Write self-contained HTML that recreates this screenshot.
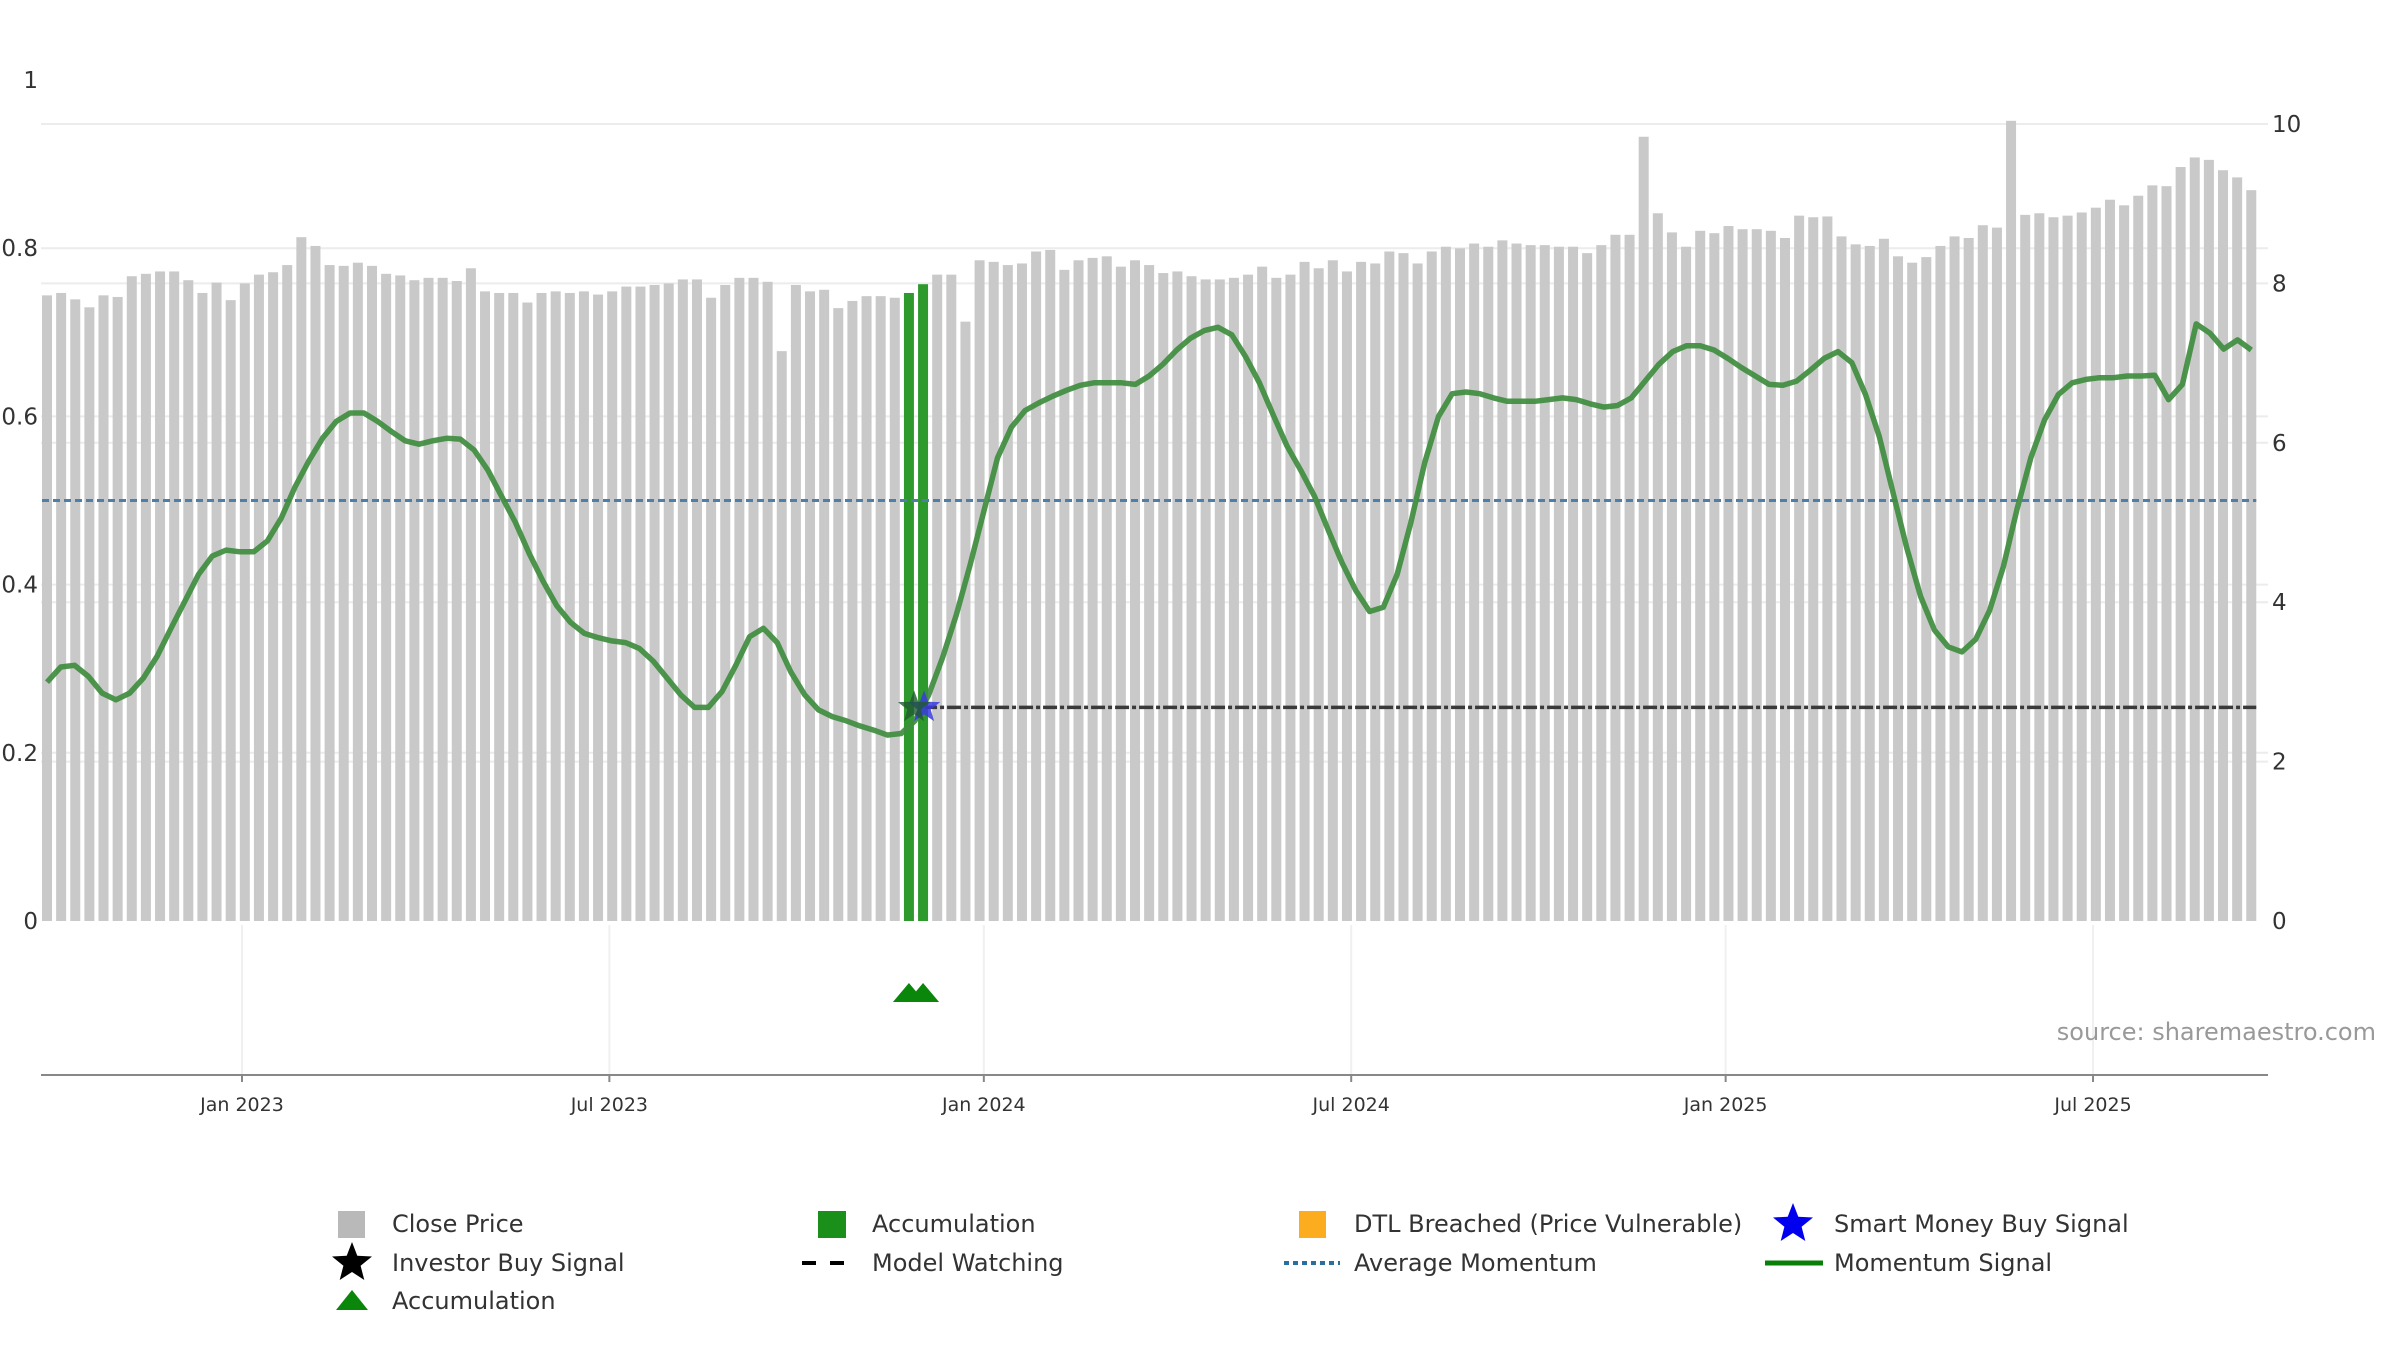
<!DOCTYPE html>
<html><head><meta charset="utf-8"><style>
html,body{margin:0;padding:0;background:#fff;}
svg text{font-family:"DejaVu Sans","Liberation Sans",sans-serif;}
</style></head><body>
<svg id="chart" width="2400" height="1350" viewBox="0 0 2400 1350" xmlns="http://www.w3.org/2000/svg">
<g id="grid"></g>
<g id="bars"></g>
<g id="lines"></g>
<g id="axes"></g>
<text x="2376" y="1040" text-anchor="end" font-size="24" fill="#999">source: sharemaestro.com</text>
<g id="legend" font-size="24" fill="#333"></g>
</svg>
<script>
const closePrices = [7.85,7.88,7.80,7.70,7.85,7.83,8.09,8.12,8.15,8.15,8.04,7.88,8.01,7.79,8.00,8.11,8.14,8.23,8.58,8.47,8.23,8.22,8.26,8.22,8.12,8.10,8.04,8.07,8.07,8.03,8.19,7.90,7.88,7.88,7.76,7.88,7.90,7.88,7.90,7.86,7.90,7.96,7.96,7.98,8.00,8.05,8.05,7.82,7.98,8.07,8.07,8.02,7.15,7.98,7.90,7.92,7.69,7.78,7.84,7.84,7.82,7.88,7.99,8.11,8.11,7.52,8.29,8.27,8.23,8.25,8.40,8.42,8.17,8.29,8.32,8.34,8.21,8.29,8.23,8.13,8.15,8.09,8.05,8.05,8.07,8.11,8.21,8.07,8.11,8.27,8.19,8.29,8.15,8.27,8.25,8.40,8.38,8.25,8.40,8.46,8.44,8.50,8.46,8.54,8.50,8.48,8.48,8.46,8.46,8.38,8.48,8.61,8.61,9.84,8.88,8.64,8.46,8.66,8.63,8.72,8.68,8.68,8.66,8.57,8.85,8.83,8.84,8.59,8.49,8.47,8.56,8.34,8.26,8.33,8.47,8.59,8.57,8.73,8.70,10.04,8.86,8.88,8.83,8.85,8.89,8.95,9.05,8.98,9.10,9.23,9.22,9.46,9.58,9.55,9.42,9.33,9.17];
const accumulationIdx = [61,62];
const momentum = [0.284,0.302,0.304,0.291,0.271,0.263,0.271,0.289,0.315,0.348,0.380,0.412,0.434,0.441,0.439,0.439,0.452,0.479,0.516,0.547,0.574,0.594,0.604,0.604,0.594,0.582,0.571,0.567,0.571,0.574,0.573,0.560,0.536,0.505,0.474,0.437,0.404,0.375,0.355,0.342,0.337,0.333,0.331,0.324,0.309,0.289,0.269,0.254,0.254,0.273,0.304,0.338,0.348,0.331,0.296,0.269,0.251,0.243,0.238,0.232,0.227,0.221,0.223,0.238,0.269,0.313,0.364,0.423,0.487,0.551,0.587,0.607,0.616,0.624,0.631,0.637,0.640,0.640,0.640,0.638,0.648,0.662,0.679,0.693,0.702,0.706,0.697,0.671,0.640,0.602,0.565,0.536,0.505,0.465,0.426,0.393,0.368,0.373,0.412,0.474,0.545,0.600,0.627,0.629,0.627,0.622,0.618,0.618,0.618,0.620,0.622,0.620,0.615,0.611,0.613,0.622,0.642,0.662,0.677,0.684,0.684,0.679,0.669,0.658,0.648,0.638,0.637,0.642,0.655,0.669,0.677,0.664,0.626,0.576,0.509,0.443,0.386,0.346,0.326,0.320,0.335,0.369,0.421,0.490,0.551,0.596,0.626,0.640,0.644,0.646,0.646,0.648,0.648,0.649,0.620,0.638,0.710,0.699,0.680,0.691,0.679];
const avgMomentum = 0.5;
const signalIdx = 62;
const signalLevel = 0.254;
const leftTicks = [0,0.2,0.4,0.6,0.8,1];
const leftTickLabels = ["0","0.2","0.4","0.6","0.8","1"];
const rightTicks = [0,2,4,6,8,10];
const xTickBarPos = [13.8,39.8,66.3,92.3,118.8,144.8];
const xTickLabels = ["Jan 2023","Jul 2023","Jan 2024","Jul 2024","Jan 2025","Jul 2025"];

const NS="http://www.w3.org/2000/svg";
const X0=47, DX=14.13, Y0=921;
const xBar=i=>X0+i*DX;
const yL=v=>Y0-v*841;
const yR=v=>Y0-v*79.7;
const PL=41, PR=2268;
function mk(tag,attrs,parent){const e=document.createElementNS(NS,tag);for(const k in attrs)e.setAttribute(k,attrs[k]);parent.appendChild(e);return e;}
const grid=document.getElementById('grid'),bars=document.getElementById('bars'),lines=document.getElementById('lines'),axes=document.getElementById('axes'),legend=document.getElementById('legend');

leftTicks.forEach((t,i)=>{
  if(t>0&&t<1){const g=mk('line',{x1:PL,x2:PR,y1:yL(t),y2:yL(t),stroke:'#ececec','stroke-width':2},grid);
  
  }
  const tx=mk('text',{x:38,y:yL(t)+8,'text-anchor':'end','font-size':23,fill:'#333'},axes);tx.textContent=leftTickLabels[i];
  
  
});
rightTicks.forEach(t=>{
  if(t>0){const g=mk('line',{x1:PL,x2:PR,y1:yR(t),y2:yR(t),stroke:'#ececec','stroke-width':2},grid);
  
  }
  const tx=mk('text',{x:2272,y:yR(t)+8,'font-size':23,fill:'#333'},axes);tx.textContent=String(t);
  
  
});
xTickBarPos.forEach((p,i)=>{
  const x=xBar(p);
  const g=mk('line',{x1:x,x2:x,y1:925,y2:1075,stroke:'#f0f0f0','stroke-width':2},grid);
  
  
  const tk=mk('line',{x1:x,x2:x,y1:1075,y2:1082,stroke:'#888','stroke-width':2},axes);
  
  
  const tx=mk('text',{x:x,y:1111,'text-anchor':'middle','font-size':19,fill:'#333'},axes);tx.textContent=xTickLabels[i];
  
  
});
const axl=mk('line',{x1:PL,x2:PR,y1:1075,y2:1075,stroke:'#888','stroke-width':2},axes);



closePrices.forEach((v,i)=>{
  const acc=accumulationIdx.includes(i);
  const r=mk('rect',{x:xBar(i)-5,y:yR(v),width:10,height:Y0-yR(v),fill:acc?'#2e9a2e':'#c9c9c9'},bars);
  
  
});

const avg=mk('line',{x1:xBar(0)-5,x2:xBar(closePrices.length-1)+5,y1:yL(avgMomentum),y2:yL(avgMomentum),stroke:'#4f7fa6','stroke-width':3,'stroke-dasharray':'7,4'},lines);



const watch=mk('line',{x1:xBar(signalIdx),x2:xBar(closePrices.length-1)+5,y1:yL(signalLevel),y2:yL(signalLevel),stroke:'#3a3a3a','stroke-width':3.5,'stroke-dasharray':'14,3,4,3'},lines);



const mStep=(xBar(closePrices.length-1)-xBar(0))/(momentum.length-1);
const pts=momentum.map((v,i)=>(xBar(0)+i*mStep).toFixed(1)+','+yL(v).toFixed(1)).join(' ');
const ml=mk('polyline',{points:pts,fill:'none',stroke:'#3f8d3f','stroke-width':5.5,'stroke-linejoin':'round',opacity:0.92},lines);



function starPath(cx,cy,R,r){let d='';for(let k=0;k<10;k++){const a=-Math.PI/2+k*Math.PI/5;const rr=k%2?r:R;d+=(k?'L':'M')+(cx+rr*Math.cos(a)).toFixed(1)+','+(cy+rr*Math.sin(a)).toFixed(1);}return d+'Z';}
const sx=xBar(signalIdx)-7, sy=yL(signalLevel);
const s1=mk('path',{d:starPath(sx+8,sy,17,7),fill:'#3a3adf',opacity:0.85},lines);


const s2=mk('path',{d:starPath(sx-2,sy,17,7),fill:'#1f5a2f',opacity:0.8},lines);



accumulationIdx.forEach(i=>{
  const x=xBar(i);
  const t=mk('polygon',{points:`${x-16},1002 ${x+16},1002 ${x},983`,fill:'#0a870a'},lines);
  
  
});

function item(name,x,y,label){const t=mk('text',{x:x,y:y+8},legend);t.textContent=label;
  
  }
let e;
e=mk('rect',{x:338,y:1211,width:27,height:27,fill:'#b9b9b9'},legend);
item('legend-close-price',392,1224,'Close Price');
e=mk('rect',{x:818,y:1211,width:28,height:27,fill:'#1a8f1a'},legend);
item('legend-accumulation-bar',872,1224,'Accumulation');
e=mk('rect',{x:1299,y:1211,width:27,height:27,fill:'#fbad1f'},legend);
item('legend-dtl-breached',1354,1224,'DTL Breached (Price Vulnerable)');
e=mk('path',{d:starPath(1793,1224,21,9),fill:'#0000ee'},legend);
item('legend-smart-money',1834,1224,'Smart Money Buy Signal');
e=mk('path',{d:starPath(352,1263,21,9),fill:'#000'},legend);
item('legend-investor-buy',392,1263,'Investor Buy Signal');
e=mk('line',{x1:802,x2:858,y1:1263,y2:1263,stroke:'#000','stroke-width':4,'stroke-dasharray':'14,14'},legend);
item('legend-model-watching',872,1263,'Model Watching');
e=mk('line',{x1:1284,x2:1340,y1:1263,y2:1263,stroke:'#2a6f9e','stroke-width':4,'stroke-dasharray':'5,4'},legend);
item('legend-average-momentum',1354,1263,'Average Momentum');
e=mk('line',{x1:1765,x2:1823,y1:1263,y2:1263,stroke:'#088008','stroke-width':5},legend);
item('legend-momentum-signal',1834,1263,'Momentum Signal');
e=mk('polygon',{points:'336,1310 368,1310 352,1290',fill:'#0a870a'},legend);
item('legend-accumulation-marker',392,1301,'Accumulation');
</script>
</body></html>
